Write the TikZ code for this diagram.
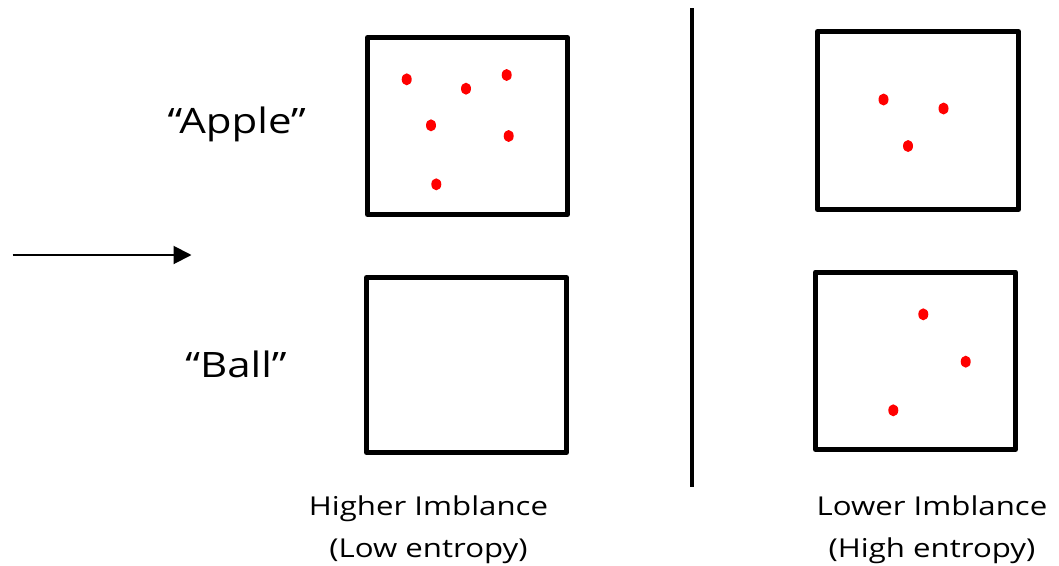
\documentclass[tikz,border=0pt]{standalone}
\usepackage{fontspec}
\usepackage{graphicx}
\usetikzlibrary{shapes.geometric,arrows.meta}
\setmainfont{Open Sans}
% text set slightly wider than the font's natural width
\newcommand{\widetext}[1]{\scalebox{1.2}[1]{#1}}
\begin{document}
\begin{tikzpicture}[x=1pt,y=-1pt,
  frame/.style={draw=black,line width=5pt,line join=round},
  dot/.style={fill=red,draw=none,ellipse,minimum width=10pt,minimum height=12pt,inner sep=0pt},
  word/.style={font=\fontsize{35}{42}\selectfont,inner sep=0pt,anchor=base},
  caption/.style={font=\fontsize{26}{42}\selectfont,align=center,inner sep=0pt,anchor=base}]
\useasboundingbox (0,0) rectangle (1059,565);
% four boxes
\draw[frame] (367.5,37.5) rectangle (567.5,214.5);
\draw[frame] (366.5,277.5) rectangle (566.5,452.5);
\draw[frame] (817.5,31.5) rectangle (1018.5,209.5);
\draw[frame] (815.5,272) rectangle (1015.5,449.5);
% dots in the top-left box
\foreach \p [count=\i] in {(406.7,79.3),(466,88.7),(506.7,75),(431,125.3),(508.7,136),(436.3,184.3)}
  \node[dot] (tl\i) at \p {};
% dots in the top-right box
\foreach \p [count=\i] in {(883.5,99.5),(943.5,108.5),(908,146)}
  \node[dot] (tr\i) at \p {};
% dots in the bottom-right box
\foreach \p [count=\i] in {(923.3,314.3),(965.7,361.7),(893.3,410.3)}
  \node[dot] (br\i) at \p {};
% divider
\draw[line width=4pt] (692,8) -- (692,487);
% arrow
\coordinate (a0) at (12.5,255);
\coordinate (a1) at (191.5,255);
\draw[line width=2pt,-{Triangle[length=18pt,width=18pt]}] (a0) -- (a1);
% labels (base anchor sits on the last line's baseline)
\node[word] (apple) at (236.7,133) {\widetext{“Apple”}};
\node[word] (ball) at (236,377.7) {\widetext{“Ball”}};
\node[caption] (left) at (428.5,557) {\widetext{Higher Imblance}\\\widetext{(Low entropy)}};
\node[caption] (right) at (932,557) {\widetext{Lower Imblance}\\\widetext{(High entropy)}};
\end{tikzpicture}
\end{document}
